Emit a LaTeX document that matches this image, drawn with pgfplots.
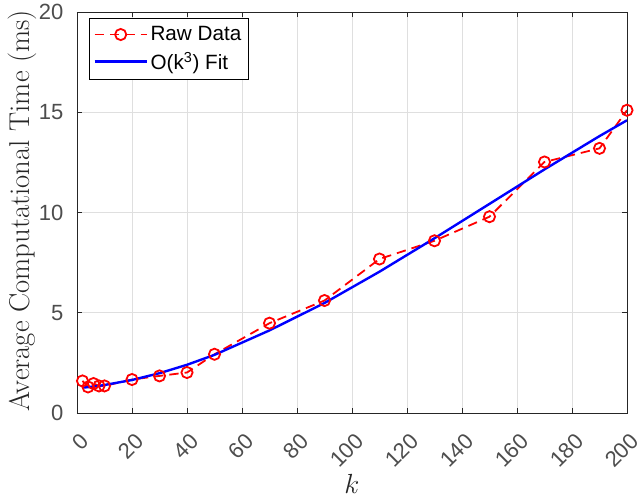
\documentclass[border=0pt]{standalone}
\usepackage{fontspec}
\usepackage{pgfplots}
\pgfplotsset{compat=1.18}
\newfontfamily\arial{Liberation Sans}
\definecolor{axgray}{RGB}{38,38,38}
\definecolor{tickgray}{RGB}{77,77,77}
\definecolor{gridgray}{RGB}{223,223,223}
\begin{document}
\begin{tikzpicture}
\useasboundingbox (-57.75pt,-65.25pt) rectangle (424.5pt,309.75pt);
\begin{axis}[
  scale only axis,
  width=412.5pt, height=300.75pt,
  xmin=0, xmax=200, ymin=0, ymax=20,
  xtick={0,20,...,200}, ytick={0,5,10,15,20},
  grid=major,
  major grid style={gridgray, line width=0.6pt},
  axis line style={axgray, line width=0.6pt},
  tick style={axgray, line width=0.6pt},
  major tick length=4pt,
  tick align=inside,
  xtick pos=both, ytick pos=both,
  /pgf/number format/assume math mode=true,
  ticklabel style={font=\arial\fontsize{16.5}{18}\selectfont, text=tickgray},
  xticklabel style={inner sep=0pt, xshift=6pt, yshift=-18.3pt, rotate=45, anchor=east},
  yticklabel style={inner sep=0pt, xshift=-10pt, anchor=east},
  xlabel={$k$},
  xlabel style={at={(axis description cs:0.5,-0.178)}, anchor=center, font=\fontsize{20}{22}\selectfont, text=axgray},
  ylabel={Average Computational Time (ms)},
  ylabel style={at={(axis description cs:-0.1,0.505)}, anchor=center, font=\fontsize{21.5}{24}\selectfont, text=axgray},
  legend style={at={(axis description cs:0.022,0.985)}, anchor=north west,
    draw=black, line width=0.6pt, fill=white,
    font=\arial\fontsize{15.5}{18}\selectfont,
    inner xsep=3pt, inner ysep=4pt, row sep=3pt},
  legend cell align=left,
  legend image code/.code={\draw[mark repeat=2,mark phase=2,#1] plot coordinates {(0pt,0pt) (19.5pt,0pt) (39pt,0pt)};},
]
\addplot[red, line width=1.35pt, dash pattern=on 7pt off 4.5pt, mark=o, mark size=4.2pt, mark options={solid, line width=1.35pt}]
coordinates {
(2,1.60) (4,1.30) (6,1.47) (8,1.35) (10,1.35) (20,1.67) (30,1.85) (40,2.02)
(50,2.93) (70,4.48) (90,5.61) (110,7.68) (130,8.59) (150,9.79) (170,12.52)
(190,13.20) (200,15.10)
};
\addlegendentry{Raw Data}
\addplot[blue, line width=1.8pt]
coordinates {
(2,1.263) (4,1.290) (6,1.322) (8,1.357) (10,1.396) (20,1.646) (30,1.985) (40,2.405)
(50,2.900) (70,4.12) (90,5.486) (110,7.048) (130,8.715) (150,10.43) (170,12.15)
(190,13.81) (200,14.60)
};
\addlegendentry{O(k\textsuperscript{3}) Fit}
\end{axis}
\end{tikzpicture}
\end{document}
